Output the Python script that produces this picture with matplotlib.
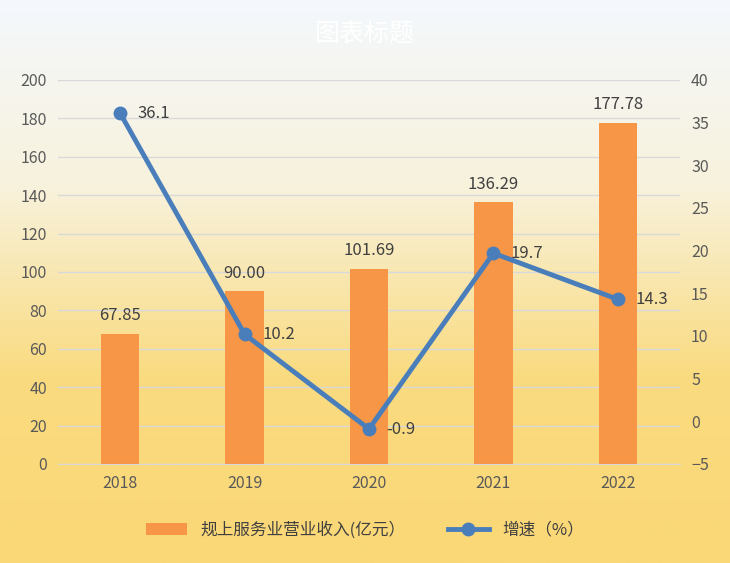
import matplotlib
matplotlib.use('Agg')
import matplotlib.pyplot as plt
import numpy as np
from matplotlib.colors import LinearSegmentedColormap

plt.rcParams['font.family'] = ['Noto Sans CJK SC', 'DejaVu Sans']

years = ['2018', '2019', '2020', '2021', '2022']
revenue = [67.85, 90.00, 101.69, 136.29, 177.78]
growth = [36.1, 10.2, -0.9, 19.7, 14.3]
rev_labels = ['67.85', '90.00', '101.69', '136.29', '177.78']
growth_labels = ['36.1', '10.2', '-0.9', '19.7', '14.3']

W, H = 730, 563
fig = plt.figure(figsize=(W/100, H/100), dpi=100)
bg = fig.add_axes([0, 0, 1, 1], zorder=-10)
cmap = LinearSegmentedColormap.from_list('g', ['#F4F8FD', '#F8F2DC', '#FADB80', '#FAD877'])
grad = np.linspace(0, 1, 256).reshape(-1, 1)
bg.imshow(grad, aspect='auto', cmap=cmap, extent=[0, 1, 0, 1])
bg.axis('off')
fig.patch.set_edgecolor('#D9D9D9'); fig.patch.set_linewidth(1)

ax = fig.add_axes([58/W, 1-464/H, (680-58)/W, (464-80)/H])
ax.patch.set_alpha(0)
x = np.arange(len(years))
ax.bar(x, revenue, width=0.31, color='#F79646', zorder=2, label='规上服务业营业收入(亿元）')
ax.set_ylim(0, 200)
ax.set_yticks(range(0, 201, 20))
ax.set_xlim(-0.5, 4.5)
ax.set_xticks(x)
ax.set_xticklabels(years)
ax.grid(axis='y', color='#D9D9D9', linewidth=1, zorder=0)
for s in ['top', 'right', 'left']:
    ax.spines[s].set_visible(False)
ax.spines['bottom'].set_color('#D9D9D9')
ax.tick_params(length=0, labelsize=11.5, colors='#595959', pad=8)
for i, v in enumerate(revenue):
    ax.text(i, v + 5, rev_labels[i], ha='center', va='bottom', fontsize=12, color='#404040')

ax2 = ax.twinx()
ax2.set_ylim(-5, 40)
ax2.set_yticks(range(-5, 41, 5))
ln, = ax2.plot(x, growth, color='#4A7EBB', linewidth=3.5, marker='o', markersize=9, zorder=3, label='增速（%）')
for s in ['top', 'right', 'left', 'bottom']:
    ax2.spines[s].set_visible(False)
ax2.tick_params(length=0, labelsize=11.5, colors='#595959', pad=8)
for i, v in enumerate(growth):
    ax2.text(i + 0.14, v, growth_labels[i], ha='left', va='center', fontsize=12, color='#404040')

fig.text(365/W, 1-35/H, '图表标题', ha='center', va='center', fontsize=18, color='white')
h1, l1 = ax.get_legend_handles_labels()
fig.legend(h1 + [ln], l1 + ['增速（%）'], loc='center', bbox_to_anchor=(0.5, 1-530/H),
           ncol=2, frameon=False, fontsize=12, labelcolor='#404040', columnspacing=2.5, handlelength=2.5)
fig.savefig('out.png', dpi=100)
